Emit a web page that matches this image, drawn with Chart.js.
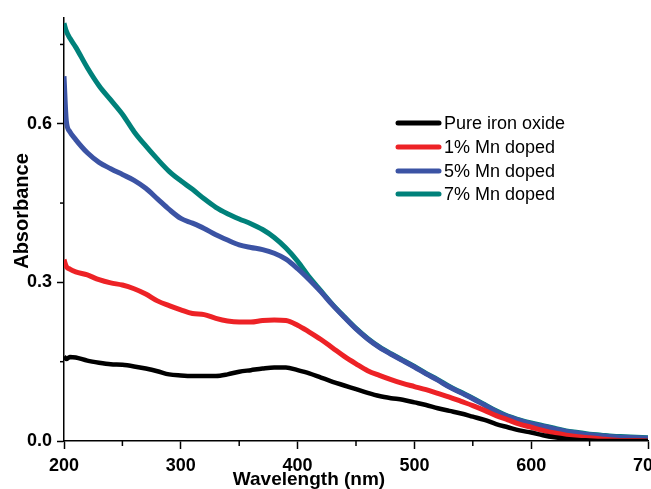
<!DOCTYPE html>
<html>
<head>
<meta charset="utf-8">
<script src="https://cdn.jsdelivr.net/npm/chart.js@4.4.0/dist/chart.umd.min.js"></script>
<style>
html,body{margin:0;padding:0;background:#fff;}
#wrap{width:651px;height:489px;}
</style>
</head>
<body>
<div id="wrap"><canvas id="c" width="651" height="489"></canvas></div>
<script>
// ---- data ----
const wavelengths = [200,202,205,210,220,230,240,250,260,270,280,290,300,310,320,330,340,350,360,370,380,390,400,410,420,430,440,450,460,470,480,490,500,510,520,530,540,550,560,570,580,590,600,610,620,630,640,650,660,670,680,690,700];
const pureIronOxide = [0.16,0.155,0.159,0.158,0.152,0.148,0.145,0.144,0.141,0.137,0.132,0.126,0.124,0.123,0.123,0.123,0.126,0.131,0.134,0.137,0.139,0.139,0.134,0.128,0.12,0.112,0.105,0.098,0.091,0.085,0.081,0.078,0.073,0.068,0.062,0.057,0.052,0.046,0.04,0.032,0.026,0.02,0.016,0.011,0.007,0.004,0.002,0.001,0,0,0,0,0];
const mn1 = [0.343,0.33,0.325,0.32,0.314,0.305,0.299,0.295,0.288,0.278,0.265,0.256,0.248,0.241,0.239,0.232,0.227,0.225,0.225,0.228,0.229,0.228,0.219,0.206,0.192,0.176,0.16,0.146,0.133,0.124,0.116,0.109,0.103,0.097,0.09,0.083,0.075,0.067,0.058,0.048,0.04,0.032,0.026,0.02,0.015,0.011,0.008,0.006,0.004,0.002,0.001,0.001,0];
const mn5 = [0.69,0.605,0.585,0.57,0.545,0.527,0.515,0.504,0.493,0.478,0.458,0.438,0.421,0.412,0.402,0.39,0.38,0.371,0.366,0.362,0.355,0.344,0.326,0.305,0.282,0.257,0.234,0.212,0.193,0.177,0.164,0.152,0.14,0.127,0.115,0.102,0.091,0.08,0.068,0.056,0.046,0.039,0.033,0.028,0.023,0.018,0.015,0.012,0.01,0.008,0.007,0.006,0.005];
const mn7 = [0.79,0.775,0.762,0.745,0.706,0.672,0.645,0.618,0.585,0.558,0.533,0.51,0.492,0.476,0.458,0.442,0.43,0.42,0.411,0.4,0.385,0.365,0.34,0.31,0.284,0.258,0.235,0.213,0.194,0.178,0.165,0.153,0.141,0.128,0.116,0.103,0.092,0.081,0.069,0.057,0.047,0.04,0.034,0.029,0.024,0.019,0.016,0.013,0.011,0.009,0.008,0.007,0.006];
const seriesNames = ['Pure iron oxide','1% Mn doped','5% Mn doped','7% Mn doped'];
const seriesColors = ['#000000','#ED2226','#3B53A4','#00817A'];
const xMajorTicks = [200,300,400,500,600,700];
const xMinorTicks = [250,350,450,550,650];
const yMajorTicks = [0,0.3,0.6];
const yMinorTicks = [0.15,0.45,0.75];
const xTitle = 'Wavelength (nm)';
const yTitle = 'Absorbance';

const FONT = "'Liberation Sans', Arial, Helvetica, sans-serif";
const seriesValues = [pureIronOxide, mn1, mn5, mn7];

const datasets = seriesValues.map((vals, i) => ({
  label: seriesNames[i],
  data: wavelengths.map((w, j) => ({x: w, y: vals[j]})),
  borderColor: seriesColors[i],
  backgroundColor: seriesColors[i],
  borderWidth: i === 0 ? 4.5 : 5,
  pointRadius: 0,
  fill: false,
  cubicInterpolationMode: 'monotone',
  borderCapStyle: 'butt',
  borderJoinStyle: 'round'
}));

const extras = {
  id: 'extras',
  afterDraw(chart) {
    const ctx = chart.ctx;
    const xs = chart.scales.x, ys = chart.scales.y;
    const a = chart.chartArea;
    ctx.save();
    // minor ticks
    ctx.strokeStyle = '#000';
    ctx.lineWidth = 1.5;
    xMinorTicks.forEach(v => {
      const px = xs.getPixelForValue(v);
      ctx.beginPath(); ctx.moveTo(px, a.bottom); ctx.lineTo(px, a.bottom + 5); ctx.stroke();
    });
    yMinorTicks.forEach(v => {
      const py = ys.getPixelForValue(v);
      ctx.beginPath(); ctx.moveTo(a.left - 4, py); ctx.lineTo(a.left, py); ctx.stroke();
    });
    // axis titles
    ctx.fillStyle = '#000';
    ctx.font = "bold 19px " + FONT;
    ctx.textAlign = 'center';
    ctx.textBaseline = 'alphabetic';
    ctx.fillText(xTitle, 309, 485);
    ctx.save();
    ctx.translate(22, 211);
    ctx.rotate(-Math.PI / 2);
    ctx.font = "bold 20px " + FONT;
    ctx.textBaseline = 'middle';
    ctx.fillText(yTitle, 0, 0);
    ctx.restore();
    // legend
    const rows = [123, 147, 171, 194];
    ctx.font = "18px " + FONT;
    ctx.textAlign = 'left';
    ctx.textBaseline = 'middle';
    seriesNames.forEach((name, i) => {
      ctx.strokeStyle = seriesColors[i];
      ctx.lineWidth = 5;
      ctx.lineCap = 'round';
      ctx.beginPath(); ctx.moveTo(398, rows[i]); ctx.lineTo(439, rows[i]); ctx.stroke();
      ctx.fillStyle = '#000';
      ctx.fillText(name, 444, rows[i] + 1);
    });
    ctx.restore();
  }
};

new Chart(document.getElementById('c'), {
  type: 'line',
  data: { datasets },
  options: {
    responsive: false,
    animation: false,
    devicePixelRatio: 1,
    layout: { padding: { top: 18, right: 3, left: 0, bottom: 0 } },
    plugins: { legend: { display: false }, tooltip: { enabled: false } },
    scales: {
      x: {
        type: 'linear',
        min: 200, max: 700,
        afterBuildTicks: s => { s.ticks = xMajorTicks.map(v => ({value: v})); },
        afterFit: s => { s.height = 48; s.paddingLeft = 0; s.paddingRight = 0; },
        grid: { drawOnChartArea: false, drawTicks: true, tickLength: 8, tickColor: '#000', tickWidth: 1.5 },
        border: { display: true, color: '#000', width: 1.5 },
        ticks: {
          color: '#000', padding: 6, maxRotation: 0, autoSkip: false,
          font: { family: FONT, size: 18, weight: 'bold' },
          callback: v => String(v)
        },
        title: { display: false }
      },
      y: {
        type: 'linear',
        min: 0, max: 0.8,
        afterBuildTicks: s => { s.ticks = yMajorTicks.map(v => ({value: v})); },
        afterFit: s => { s.width = 64; s.paddingTop = 0; s.paddingBottom = 0; },
        grid: { drawOnChartArea: false, drawTicks: true, tickLength: 7, tickColor: '#000', tickWidth: 1.5 },
        border: { display: true, color: '#000', width: 1.5 },
        ticks: {
          color: '#000', padding: 5, autoSkip: false,
          font: { family: FONT, size: 18, weight: 'bold' },
          callback: v => Number(v).toFixed(1)
        },
        title: { display: false }
      }
    }
  },
  plugins: [extras]
});
</script>
</body>
</html>
